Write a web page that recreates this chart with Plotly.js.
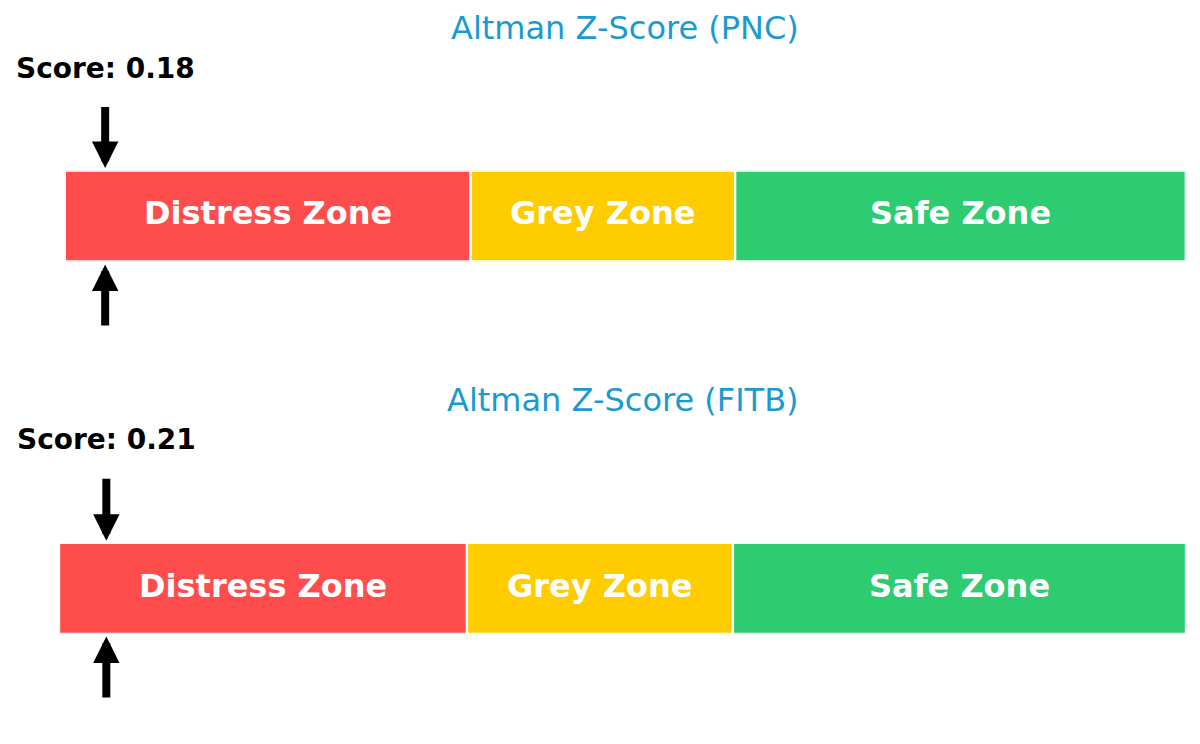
<!DOCTYPE html>
<html>
<head>
<meta charset="utf-8">
<script src="https://cdn.plot.ly/plotly-3.0.1.min.js"></script>
<style>html,body{margin:0;padding:0;background:#fff;}#chart{width:1200px;height:744px;}</style>
</head>
<body>
<div id="chart"></div>
<script>
// ---- data ----
const companies = ['PNC', 'FITB'];
const scores = [0.18, 0.21];
const zoneNames = ['Distress Zone', 'Grey Zone', 'Safe Zone'];
const zoneBounds = [0, 1.81, 2.99, 5.0];

// ---- style ----
const zoneColors = ['#ff4d4d', '#ffcc00', '#2ecc71'];
const titleColor = '#1a9bcf';
const FONT = 'DejaVu Sans, Verdana, sans-serif';
const W = 1200, H = 744;
// layout per panel (pixels)
const panels = [
  {xl: 64.8, xr: 1185.8, barTop: 170.5, barBot: 261.5, title: 27.5, score: 68.2, downTip: 168, downLen: 62.5, upTip: 264.5, upLen: 62.5},
  {xl: 59.0, xr: 1186.0, barTop: 542.8, barBot: 633.8, title: 399.5, score: 439.2, downTip: 540.7, downLen: 63.5, upTip: 636.5, upLen: 62.5}
];
const py = p => 1 - p / H;

const traces = [];
const annotations = [];
const layout = {
  width: W, height: H,
  margin: {l: 0, r: 0, t: 0, b: 0},
  paper_bgcolor: '#fff', plot_bgcolor: '#fff',
  showlegend: false,
  barmode: 'overlay',
  font: {family: FONT},
  annotations: annotations
};

companies.forEach((c, i) => {
  const P = panels[i];
  const xa = 'x' + (i === 0 ? '' : i + 1);
  const ya = 'y' + (i === 0 ? '' : i + 1);
  zoneNames.forEach((z, k) => {
    traces.push({
      type: 'bar', orientation: 'h',
      y: [0], base: [zoneBounds[k]], x: [zoneBounds[k + 1] - zoneBounds[k]],
      width: 1,
      xaxis: xa, yaxis: ya,
      marker: {color: zoneColors[k], line: {color: '#ffffff', width: 2.3}},
      hoverinfo: 'skip'
    });
    annotations.push({
      xref: xa, yref: ya, x: (zoneBounds[k] + zoneBounds[k + 1]) / 2, y: 0,
      xanchor: 'center', yanchor: 'middle', yshift: 2.5, showarrow: false,
      text: z,
      font: {family: FONT, size: 32, color: '#ffffff', weight: 'bold'}
    });
  });
  const xName = 'xaxis' + (i === 0 ? '' : i + 1);
  const yName = 'yaxis' + (i === 0 ? '' : i + 1);
  layout[xName] = {
    domain: [P.xl / W, P.xr / W], range: [zoneBounds[0], zoneBounds[zoneBounds.length - 1]],
    anchor: ya, showgrid: false, zeroline: false, showticklabels: false,
    showline: false, ticks: '', fixedrange: true
  };
  layout[yName] = {
    domain: [py(P.barBot), py(P.barTop)], range: [-0.5, 0.5],
    anchor: xa, showgrid: false, zeroline: false, showticklabels: false,
    showline: false, ticks: '', fixedrange: true
  };
  // title
  annotations.push({
    xref: 'paper', yref: 'paper', x: (P.xl + P.xr) / 2 / W, y: py(P.title),
    xanchor: 'center', yanchor: 'middle', showarrow: false,
    text: 'Altman Z-Score (' + c + ')',
    font: {family: FONT, size: 32, color: titleColor}
  });
  // score label
  annotations.push({
    xref: xa, yref: 'paper', x: scores[i], y: py(P.score),
    xanchor: 'center', yanchor: 'middle', showarrow: false,
    text: 'Score: ' + scores[i].toFixed(2),
    font: {family: FONT, size: 28, color: '#000000', weight: 'bold'}
  });
  // arrows
  annotations.push({
    xref: xa, yref: 'paper', x: scores[i], y: py(P.downTip),
    ax: 0, ay: -P.downLen, text: '', showarrow: true,
    arrowhead: 2, arrowsize: 0.66, arrowwidth: 8, arrowcolor: '#000000', standoff: 0
  });
  annotations.push({
    xref: xa, yref: 'paper', x: scores[i], y: py(P.upTip),
    ax: 0, ay: P.upLen, text: '', showarrow: true,
    arrowhead: 2, arrowsize: 0.66, arrowwidth: 8, arrowcolor: '#000000', standoff: 0
  });
});

Plotly.newPlot('chart', traces, layout, {displayModeBar: false, staticPlot: true});
</script>
</body>
</html>
